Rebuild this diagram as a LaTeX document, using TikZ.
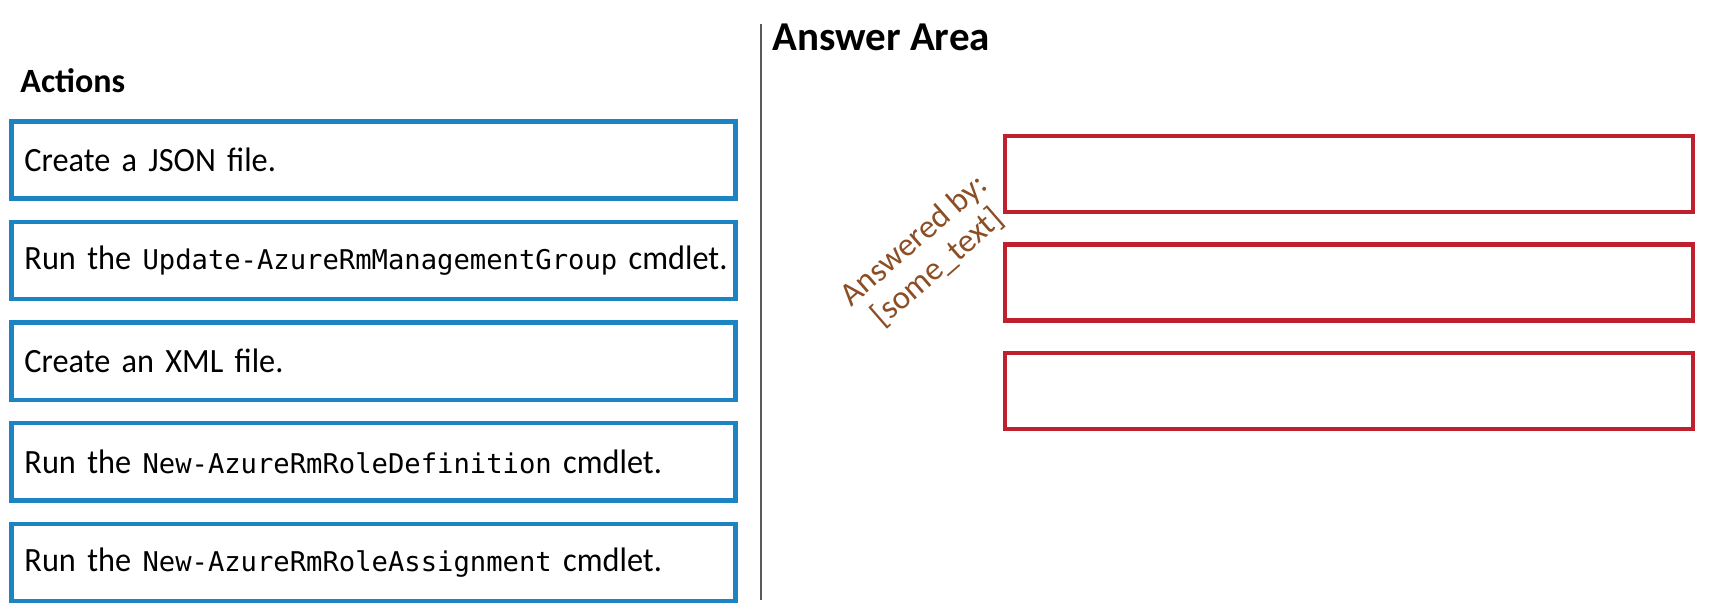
\documentclass[tikz,border=0pt]{standalone}
\usepackage{fontspec}
\setmainfont{Carlito}
\newfontfamily\cmdfont{DejaVu Sans Mono}[Scale=0.80]
\usepackage{xcolor}
\definecolor{actblue}{RGB}{28,132,195}
\definecolor{ansred}{RGB}{190,32,45}
\definecolor{notebrown}{RGB}{140,78,36}
\definecolor{rulegray}{RGB}{90,90,90}
\usepackage{tikz}
\usetikzlibrary{positioning}

\newcommand{\cmd}[1]{{\cmdfont #1}}

\begin{document}
\begin{tikzpicture}[
  x=0.5pt, y=-0.5pt,
  node distance=9.5pt,
  actbox/.style={
    draw=actblue, line width=2.2pt,
    text width=349pt, inner xsep=6.5pt, minimum height=38.6pt,
    align=left, font=\fontsize{17}{20}\selectfont\addfontfeature{FakeStretch=0.95}
  },
  ansbox/.style={
    draw=ansred, line width=2.2pt,
    minimum width=344pt, minimum height=38pt
  },
  heading/.style={font=\bfseries, anchor=base west, inner sep=0pt},
  note/.style={font=\fontsize{16.5}{18}\selectfont, text=notebrown, align=center, rotate=41}
]
\useasboundingbox (0,0) rectangle (1711,608);

% Actions
\node[heading, font=\fontsize{17}{20}\bfseries\selectfont] (actions) at (20,93) {Actions};
\node[actbox] (json) at (373.5,160) {Create a JSON file.};
\node[actbox, below=of json] (update) {\mbox{Run the \cmd{Update-AzureRmManagementGroup} cmdlet.}};
\node[actbox, below=of update] (xml) {Create an XML file.};
\node[actbox, below=of xml] (roledef) {Run the \cmd{New-AzureRmRoleDefinition} cmdlet.};
\node[actbox, below=of roledef] (roleassign) {Run the \cmd{New-AzureRmRoleAssignment} cmdlet.};

% Divider
\coordinate (div-top) at (761,24);
\coordinate (div-bot) at (761,600);
\draw[rulegray, line width=1pt] (div-top) -- (div-bot);

% Answer Area
\node[heading, font=\fontsize{20.5}{24}\bfseries\selectfont] (answer) at (772,51) {Answer Area};
\node[ansbox] (slot1) at (1349,174) {};
\node[ansbox, below=14pt of slot1] (slot2) {};
\node[ansbox, below=14pt of slot2] (slot3) {};

\node[note] (answered) at (926,254) {Answered by:\\{}[some\_text]};

\end{tikzpicture}
\end{document}
